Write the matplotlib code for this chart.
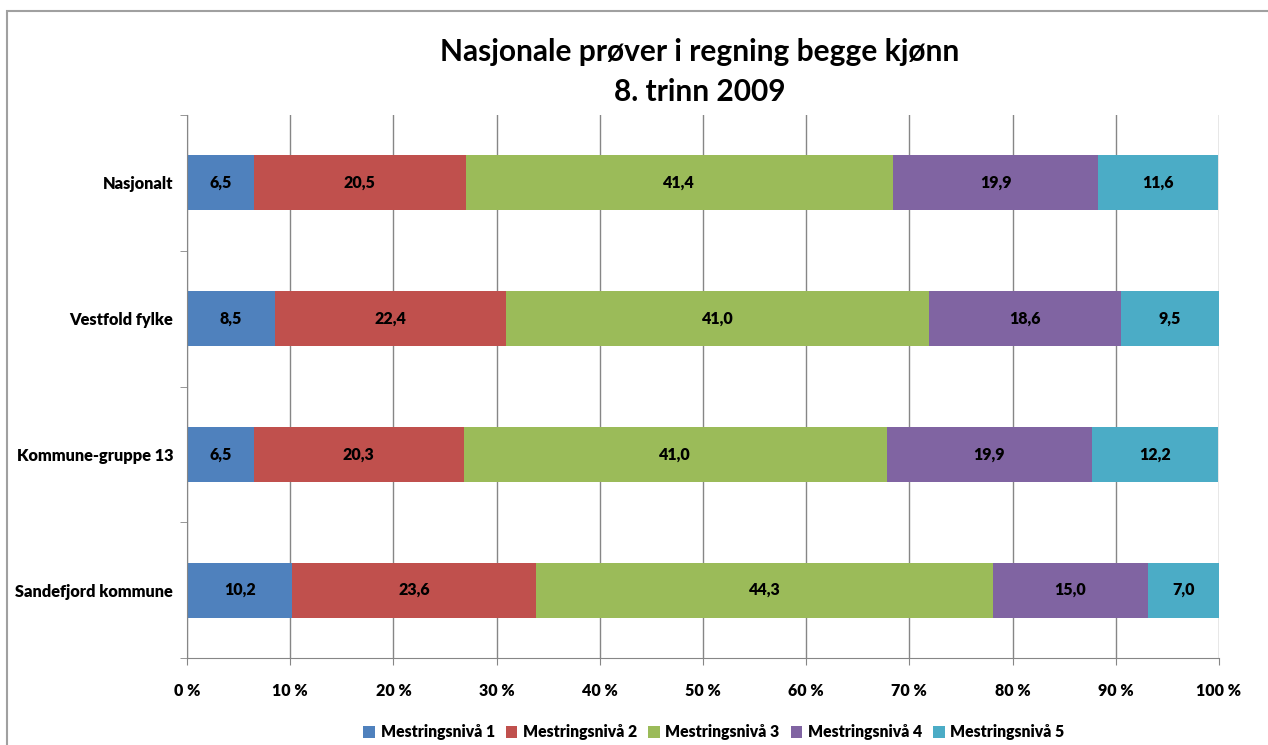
import numpy as np
import matplotlib.pyplot as plt
from matplotlib.patches import Rectangle

plt.rcParams['font.family'] = ['Lato', 'DejaVu Sans']

# Share of pupils per mastery level (percent)
categories = ['Nasjonalt', 'Vestfold fylke', 'Kommune-gruppe 13', 'Sandefjord kommune']
levels = ['Mestringsnivå 1', 'Mestringsnivå 2', 'Mestringsnivå 3',
          'Mestringsnivå 4', 'Mestringsnivå 5']
niva1 = [6.5, 8.5, 6.5, 10.2]
niva2 = [20.5, 22.4, 20.3, 23.6]
niva3 = [41.4, 41.0, 41.0, 44.3]
niva4 = [19.9, 18.6, 19.9, 15.0]
niva5 = [11.6, 9.5, 12.2, 7.0]
xticks = [0, 10, 20, 30, 40, 50, 60, 70, 80, 90, 100]

colors = ['#4F81BD', '#C0504D', '#9BBB59', '#8064A2', '#4BACC6']
series = [niva1, niva2, niva3, niva4, niva5]
W = 800  # text weight

fig = plt.figure(figsize=(12.68, 7.45), dpi=100)
ax = fig.add_axes([0.1475, 0.1168, 0.8138, 0.7288])

# outer chart frame
fig.patches.append(Rectangle((7 / 1268, -0.05), 1.1, 1 - 11 / 745 + 0.05,
                             transform=fig.transFigure, fill=False,
                             edgecolor='#A0A0A0', linewidth=1.5))

y = np.arange(len(categories))
left = np.zeros(len(categories))
for vals, col, name in zip(series, colors, levels):
    vals = np.array(vals)
    ax.barh(y, vals, left=left, height=0.405, color=col, label=name, zorder=2)
    for yi, l, v in zip(y, left, vals):
        ax.text(l + v / 2, yi, f'{v:.1f}'.replace('.', ','), ha='center',
                va='center', fontsize=11.5, fontweight=W, color='black', zorder=3)
    left += vals

ax.set_xlim(0, 100)
ax.set_ylim(3.5, -0.5)
ax.set_xticks(xticks)
ax.set_xticklabels([f'{t} %' for t in xticks], fontsize=11.5, fontweight=W)
ax.set_yticks(y)
ax.set_yticklabels(categories, fontsize=11.8, fontweight=W)
ax.set_yticks(np.arange(-0.5, 4, 1), minor=True)
ax.tick_params(axis='y', which='major', length=0, pad=10)
ax.tick_params(axis='y', which='minor', length=5, color='#868686')
ax.tick_params(axis='x', length=5, color='#868686', pad=13)
ax.grid(axis='x', color='#868686', linewidth=1, zorder=0)
for s in ['top', 'right']:
    ax.spines[s].set_visible(False)
for s in ['left', 'bottom']:
    ax.spines[s].set_color('#868686')

fig.text(0.552, 0.93, 'Nasjonale prøver i regning begge kjønn', ha='center',
         va='center', fontsize=21.5, fontweight='bold')
fig.text(0.552, 0.876, '8. trinn 2009', ha='center', va='center',
         fontsize=21.5, fontweight='bold')

fig.legend(loc='center', bbox_to_anchor=(0.563, 0.017), ncol=5, frameon=False,
           prop={'size': 11.3, 'weight': W}, handlelength=0.75,
           handleheight=0.75, handletextpad=0.35, columnspacing=0.7)

fig.savefig('out.png', dpi=100)
